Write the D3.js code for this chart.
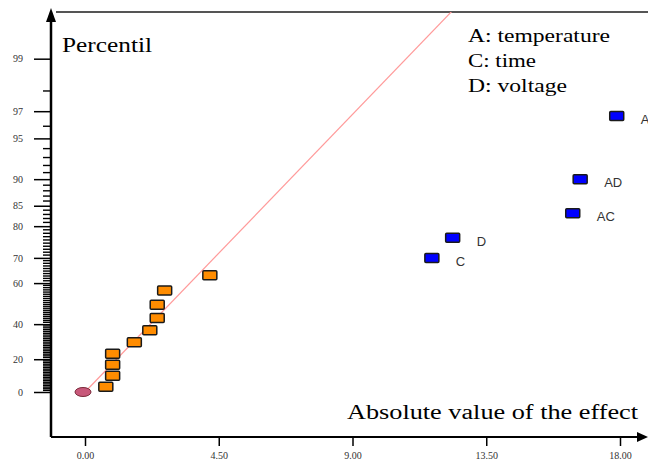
<!DOCTYPE html>
<html>
<head>
<meta charset="utf-8">
<script src="https://cdn.jsdelivr.net/npm/d3@7"></script>
<style>
    body { margin: 0; background: #fff; }
    #chart { width: 648px; height: 465px; }
</style>
</head>
<body>
<div id="chart"></div>
<script>
// half-normal plot of effects
const majorPct = [0, 20, 40, 60, 70, 80, 85, 90, 95, 97, 99];
const xTicks = [0, 4.5, 9, 13.5, 18];

// small effects (orange) and the origin marker
const originEffect = [0];
const originPct = [0];
const smallEffect = [0.70, 0.93, 0.93, 0.93, 1.66, 2.18, 2.43, 2.43, 2.68, 4.20];
const smallPct = [3.3, 10, 16.7, 23.3, 30, 36.7, 43.3, 50, 56.7, 63.3];

// significant effects (blue)
const bigNames = ["C", "D", "AC", "AD", "A"];
const bigEffect = [11.67, 12.37, 16.41, 16.66, 17.89];
const bigPct = [70, 76.7, 83.3, 90, 96.7];

// reference line, two points (effect, percentile)
const lineEffect = [0, 12.45];
const linePct = [0, 99.7];

const legendLines = ["A: temperature", "C: time", "D: voltage"];

// inverse normal cdf (Acklam)
function probit(p) {
    const a = [-3.969683028665376e+01, 2.209460984245205e+02, -2.759285104469687e+02, 1.383577518672690e+02, -3.066479806614716e+01, 2.506628277459239e+00];
    const b = [-5.447609879822406e+01, 1.615858368580409e+02, -1.556989798598866e+02, 6.680131188771972e+01, -1.328068155288572e+01];
    const c = [-7.784894002430293e-03, -3.223964580411365e-01, -2.400758277161838e+00, -2.549671324354134e+00, 4.374664141464968e+00, 2.938163982698783e+00];
    const d = [7.784695709041462e-03, 3.224671290700398e-01, 2.445134137142996e+00, 3.754408661907416e+00];
    let q, r;
    if (p < 0.02425) {
        q = Math.sqrt(-2 * Math.log(p));
        return (((((c[0]*q+c[1])*q+c[2])*q+c[3])*q+c[4])*q+c[5]) / ((((d[0]*q+d[1])*q+d[2])*q+d[3])*q+1);
    }
    if (p <= 1 - 0.02425) {
        q = p - 0.5; r = q * q;
        return (((((a[0]*r+a[1])*r+a[2])*r+a[3])*r+a[4])*r+a[5])*q / (((((b[0]*r+b[1])*r+b[2])*r+b[3])*r+b[4])*r+1);
    }
    q = Math.sqrt(-2 * Math.log(1 - p));
    return -(((((c[0]*q+c[1])*q+c[2])*q+c[3])*q+c[4])*q+c[5]) / ((((d[0]*q+d[1])*q+d[2])*q+d[3])*q+1);
}
// percentile -> half normal score
const halfZ = p => probit(0.5 + p / 200);

class HalfNormalVis {
    constructor(parentElement) {
        this.parentElement = parentElement;
        this.initVis();
    }

    initVis() {
        let vis = this;
        vis.width = 648;
        vis.height = 465;
        vis.axisX = 51;       // y axis position
        vis.axisY = 437;      // x axis position
        vis.top = 12;

        vis.svg = d3.select("#" + vis.parentElement).append("svg")
            .attr("width", vis.width)
            .attr("height", vis.height)
            .style("font-family", "'Liberation Serif', serif");

        vis.x = d3.scaleLinear().domain([0, 18]).range([85, 620]);
        vis.yz = d3.scaleLinear().domain([0, 1]).range([392, 392 - 129.4]);
        vis.y = p => vis.yz(halfZ(p));

        vis.svg.append("defs").append("clipPath").attr("id", "plotClip")
            .append("rect")
            .attr("x", vis.axisX).attr("y", vis.top)
            .attr("width", vis.width - vis.axisX).attr("height", vis.axisY - vis.top);

        vis.drawAxes();
        vis.updateVis();
    }

    drawAxes() {
        let vis = this;

        // top frame line
        vis.svg.append("line")
            .attr("x1", vis.axisX + 5).attr("x2", vis.width)
            .attr("y1", vis.top).attr("y2", vis.top)
            .attr("stroke", "#555").attr("stroke-width", 2);

        // minor percentile ticks
        let minor = d3.range(1, 100).filter(p => majorPct.indexOf(p) < 0);
        vis.svg.append("g").selectAll("line").data(minor).enter().append("line")
            .attr("x1", vis.axisX - 8).attr("x2", vis.axisX)
            .attr("y1", d => vis.y(d)).attr("y2", d => vis.y(d))
            .attr("stroke", "#000").attr("stroke-width", 1.4);

        // major ticks via d3 axis
        let zVals = majorPct.map(halfZ);
        let yAxis = d3.axisLeft(vis.yz)
            .tickValues(zVals)
            .tickFormat(d => majorPct[zVals.indexOf(d)])
            .tickSize(17)
            .tickPadding(11);
        vis.svg.append("g")
            .attr("transform", `translate(${vis.axisX}, 0)`)
            .call(yAxis)
            .call(g => g.select(".domain").remove())
            .call(g => g.selectAll(".tick line").attr("stroke", "#000").attr("stroke-width", 1.5))
            .call(g => g.selectAll(".tick text")
                .style("font-family", "'Liberation Serif', serif")
                .style("font-size", "10px")
                .attr("fill", "#333"));

        // y axis line + arrow
        vis.svg.append("line")
            .attr("x1", vis.axisX).attr("x2", vis.axisX)
            .attr("y1", vis.top + 8).attr("y2", vis.axisY)
            .attr("stroke", "#000").attr("stroke-width", 2.5);
        vis.svg.append("path")
            .attr("d", `M${vis.axisX},${vis.top - 4} L${vis.axisX - 5},${vis.top + 10} L${vis.axisX + 5},${vis.top + 10} Z`)
            .attr("fill", "#000");

        // x axis
        let xAxis = d3.axisBottom(vis.x)
            .tickValues(xTicks)
            .tickFormat(d3.format(".2f"))
            .tickSize(9)
            .tickPadding(6);
        vis.svg.append("g")
            .attr("transform", `translate(0, ${vis.axisY})`)
            .call(xAxis)
            .call(g => g.select(".domain").remove())
            .call(g => g.selectAll(".tick line").attr("stroke", "#000").attr("stroke-width", 1.5))
            .call(g => g.selectAll(".tick text")
                .style("font-family", "'Liberation Serif', serif")
                .style("font-size", "10px")
                .attr("fill", "#333"));

        vis.svg.append("line")
            .attr("x1", vis.axisX).attr("x2", vis.width - 8)
            .attr("y1", vis.axisY).attr("y2", vis.axisY)
            .attr("stroke", "#000").attr("stroke-width", 2);
        vis.svg.append("path")
            .attr("d", `M${vis.width},${vis.axisY} L${vis.width - 11},${vis.axisY - 5} L${vis.width - 11},${vis.axisY + 5} Z`)
            .attr("fill", "#000");

        // axis titles
        vis.svg.append("text")
            .attr("x", 62).attr("y", 52)
            .attr("textLength", 90).attr("lengthAdjust", "spacingAndGlyphs")
            .style("font-size", "20px")
            .text("Percentil");
        vis.svg.append("text")
            .attr("x", 347).attr("y", 419)
            .attr("textLength", 291).attr("lengthAdjust", "spacingAndGlyphs")
            .style("font-size", "20px")
            .text("Absolute value of the effect");

        // legend
        let widths = [142, 68, 99];
        vis.svg.append("g").selectAll("text").data(legendLines).enter().append("text")
            .attr("x", 468)
            .attr("y", (d, i) => 42 + i * 25)
            .attr("textLength", (d, i) => widths[i])
            .attr("lengthAdjust", "spacingAndGlyphs")
            .style("font-size", "18px")
            .text(d => d);
    }

    updateVis() {
        let vis = this;
        let plot = vis.svg.append("g").attr("clip-path", "url(#plotClip)");

        // reference line
        let linePts = lineEffect.map((e, i) => [vis.x(e), vis.y(linePct[i])]);
        plot.append("path")
            .attr("d", d3.line()(linePts))
            .attr("fill", "none")
            .attr("stroke", "#ff9a9a")
            .attr("stroke-width", 1.2);

        // origin marker
        plot.selectAll(".origin").data(originEffect).enter().append("ellipse")
            .attr("class", "origin")
            .attr("cx", d => vis.x(d) - 2)
            .attr("cy", (d, i) => vis.y(originPct[i]))
            .attr("rx", 8).attr("ry", 4.5)
            .attr("fill", "#c8587a")
            .attr("stroke", "#7a2a3a").attr("stroke-width", 1);

        // small effects
        plot.selectAll(".small").data(smallEffect).enter().append("rect")
            .attr("class", "small")
            .attr("x", d => vis.x(d) - 7)
            .attr("y", (d, i) => vis.y(smallPct[i]) - 4.5)
            .attr("width", 14).attr("height", 9)
            .attr("rx", 1)
            .attr("fill", "#ff8c00")
            .attr("stroke", "#1a1a1a").attr("stroke-width", 1.5);

        // significant effects
        plot.selectAll(".big").data(bigEffect).enter().append("rect")
            .attr("class", "big")
            .attr("x", d => vis.x(d) - 7)
            .attr("y", (d, i) => vis.y(bigPct[i]) - 4.5)
            .attr("width", 14).attr("height", 9)
            .attr("rx", 1)
            .attr("fill", "#0000ff")
            .attr("stroke", "#1a1a1a").attr("stroke-width", 1.5);

        plot.selectAll(".bigLabel").data(bigEffect).enter().append("text")
            .attr("class", "bigLabel")
            .attr("x", d => vis.x(d) + 24)
            .attr("y", (d, i) => vis.y(bigPct[i]) + 8)
            .style("font-family", "'Liberation Sans', Arial, sans-serif")
            .style("font-size", "13px")
            .attr("fill", "#333")
            .text((d, i) => bigNames[i]);
    }
}

new HalfNormalVis("chart");
</script>
</body>
</html>
